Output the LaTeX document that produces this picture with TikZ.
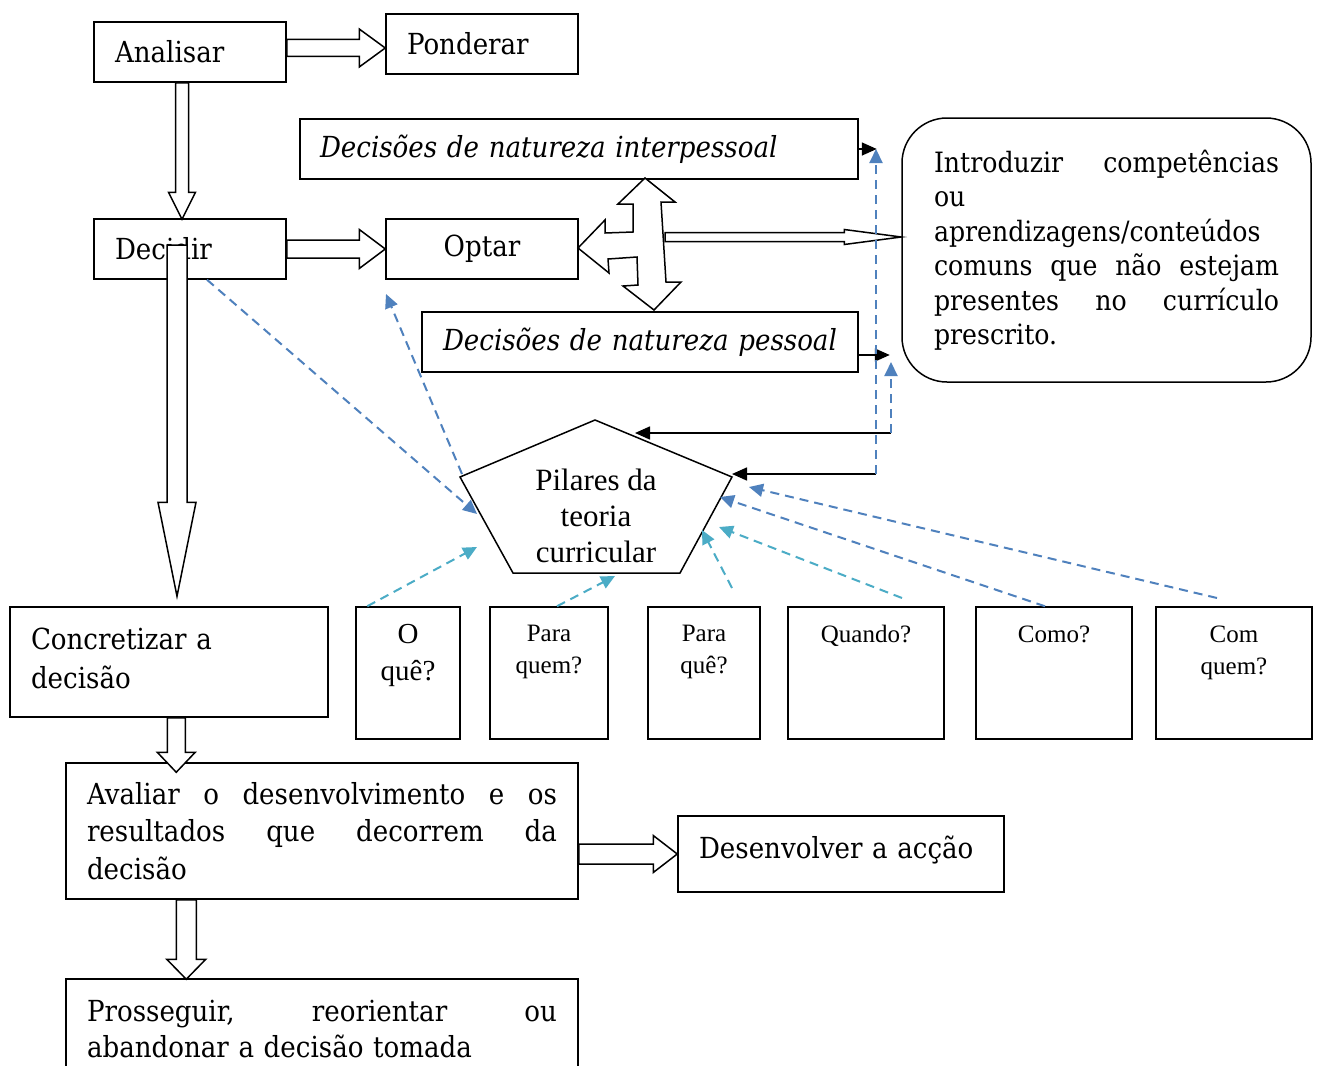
\documentclass[tikz,border=0pt]{standalone}
\usepackage{fontspec}
\setmainfont{DejaVu Serif}[FakeStretch=0.9]
\newfontfamily\tms{Liberation Serif}
\usetikzlibrary{arrows.meta,calc}
\definecolor{myblue}{RGB}{79,129,189}
\definecolor{mycyan}{RGB}{75,172,198}
\newcommand\myharrow[5]{\draw[blk] let \p1=(#1), \p2=(#2) in (\x1,\y2+#3) -- (\x2-#5,\y2+#3) -- (\x2-#5,\y2+#4) -- (\x2,\y2) -- (\x2-#5,\y2-#4) -- (\x2-#5,\y2-#3) -- (\x1,\y2-#3) -- cycle;}
\newcommand\myvarrow[5]{\draw[blk] let \p1=(#1), \p2=(#2) in (\x2-#3,\y1) -- (\x2-#3,\y2+#5) -- (\x2-#4,\y2+#5) -- (\x2,\y2) -- (\x2+#4,\y2+#5) -- (\x2+#3,\y2+#5) -- (\x2+#3,\y1) -- cycle;}
\newcommand\jline[2]{\leavevmode\hbox to #1{#2}}
\tikzset{
  box/.style={draw, line width=1.5pt, fill=white, inner ysep=0pt, font=\fontsize{29}{35}\selectfont},
  lbox/.style={box, align=left, inner xsep=21pt},
  qbox/.style={draw, line width=1.5pt, minimum height=132pt, inner sep=0pt},
  qtext/.style={anchor=north, align=center, inner sep=0pt, font=\tms\fontsize{25}{32}\selectfont},
  blk/.style={draw, line width=1.5pt, fill=white, line join=miter},
  dblue/.style={draw=myblue, line width=2pt, dash pattern=on 9pt off 6pt, -{Triangle[length=14pt,width=13pt]}, myblue},
  dcyan/.style={draw=mycyan, line width=2pt, dash pattern=on 9pt off 6pt, -{Triangle[length=14pt,width=13pt]}, mycyan},
  blackarr/.style={line width=1.6pt, -{Triangle[length=15pt,width=13pt]}},
}
\begin{document}
\begin{tikzpicture}[x=1pt,y=-1pt]
\useasboundingbox (0,0) rectangle (1319,1065);
\fill[white] (0,0) rectangle (1319,1065);

% main boxes
\node[lbox, text width=150pt, minimum height=60pt] (ana) at (190,52) {Analisar};
\node[lbox, text width=150pt, minimum height=60pt] (pon) at (482,44) {Ponderar};
\node[lbox, text width=150pt, minimum height=60pt] (dec) at (190,249) {Decidir};
\node[box, minimum width=192pt, minimum height=60pt] (opt) at (482,249) {Optar};
\node[lbox, inner xsep=20pt, text width=518pt, minimum height=60pt, font=\itshape\fontsize{29}{35}\selectfont] (inter) at (579,149) {Decisões de natureza interpessoal};
\node[lbox, text width=394pt, minimum height=60pt, font=\itshape\fontsize{29}{35}\selectfont] (pess) at (640,342) {Decisões de natureza pessoal};
\node[box, rounded corners=45pt, align=left, inner xsep=32pt, text width=345pt, minimum height=264pt, font=\fontsize{28}{34.5}\selectfont] (intro) at (1106.5,250) {\jline{345pt}{Introduzir\hfill competências}\\ou\\aprendizagens/conteúdos\\\jline{345pt}{comuns\hfill que\hfill não\hfill estejam}\\\jline{345pt}{presentes\hfill no\hfill currículo}\\prescrito.};
\node[lbox, text width=276pt, minimum height=110pt, text depth=47pt, font=\fontsize{29}{39}\selectfont] (conc) at (169,662) {Concretizar a\\decisão};
\node[lbox, text width=470pt, minimum height=136pt, font=\fontsize{29}{37.5}\selectfont] (aval) at (322,831) {\jline{470pt}{Avaliar\hfill o\hfill desenvolvimento\hfill e\hfill os}\\\jline{470pt}{resultados\hfill que\hfill decorrem\hfill da}\\decisão};
\node[lbox, text width=284pt, minimum height=76pt, text depth=14pt] (des) at (841,854) {Desenvolver a acção};
\node[lbox, text width=470pt, minimum height=101pt, font=\fontsize{29}{36}\selectfont] (pros) at (322,1029.5) {\jline{470pt}{Prosseguir,\hfill reorientar\hfill ou}\\abandonar a decisão tomada};

% question boxes
\node[qbox, minimum width=104pt] (q1) at (408,673) {};
\node[qbox, minimum width=118pt] (q2) at (549,673) {};
\node[qbox, minimum width=112pt] (q3) at (704,673) {};
\node[qbox, minimum width=156pt] (q4) at (866,673) {};
\node[qbox, minimum width=156pt] (q5) at (1054,673) {};
\node[qbox, minimum width=156pt] (q6) at (1234,673) {};
\node[qtext, font=\tms\fontsize{29}{37}\selectfont] (q1t) at ($(q1.north)+(0,18)$) {O\\quê?};
\node[qtext] (q2t) at ($(q2.north)+(0,19)$) {Para\\quem?};
\node[qtext] (q3t) at ($(q3.north)+(0,19)$) {Para\\quê?};
\node[qtext] (q4t) at ($(q4.north)+(0,19)$) {Quando?};
\node[qtext] (q5t) at ($(q5.north)+(0,19)$) {Como?};
\node[qtext] (q6t) at ($(q6.north)+(0,19)$) {Com\\quem?};

% pentagon
\coordinate (pT) at (595,420);
\coordinate (pR) at (732,477);
\coordinate (pBR) at (680,573);
\coordinate (pBL) at (513,573);
\coordinate (pL) at (460,477);
\draw[line width=1.5pt, fill=white] (pT) -- (pR) -- (pBR) -- (pBL) -- (pL) -- cycle;
\node[align=center, inner sep=0pt, font=\tms\fontsize{31}{36}\selectfont] (pil) at (596,516) {Pilares da\\teoria\\curricular};

% block arrows
\myharrow{ana.east}{$(pon.west)+(0,4)$}{8.5pt}{19pt}{26pt}
\myvarrow{ana.south}{$(dec.north)+(-8,1)$}{6.5pt}{13.5pt}{27pt}
\myharrow{dec.east}{opt.west}{9pt}{19.5pt}{26pt}
\myvarrow{$(dec.center)+(0,-4)$}{$(conc.north)+(8,-10)$}{10pt}{19pt}{94pt}
\myvarrow{conc.south}{$(aval.north west)+(111,10)$}{9pt}{19pt}{20pt}
\myharrow{aval.east}{des.west}{10pt}{18.5pt}{24pt}
\myvarrow{aval.south}{$(pros.north west)+(121,1)$}{10pt}{19.5pt}{20pt}

% four-way arrow
\draw[blk] (645,178) -- (675,202) -- (661,202) -- (666,282) -- (681,282) -- (654,310) -- (623,286) -- (638,285) -- (637,257) -- (608,259) -- (609,273) -- (578,248) -- (605,220) -- (605,233) -- (633,232) -- (633,204) -- (618,204) -- cycle;
\coordinate (fw) at (665,237);
\myharrow{fw}{$(intro.west)+(0,-13)$}{4.5pt}{7.5pt}{57pt}

% connector corner points
\coordinate (c1) at (876,474);
\coordinate (c2) at (891,433);
\coordinate (u1) at (876,149);
\coordinate (u2) at (891,362);

% black arrows
\draw[blackarr] (inter.east) -- ++(18,0);
\draw[blackarr] ($(pess.east)+(0,13)$) -- ++(31,0);
\draw[blackarr] (c1) -- (c1 -| pR);
\draw[blackarr] (c2) -- (635,433);

% blue dashed
\draw[dblue] (c1) -- (u1);
\draw[dblue] (c2) -- (u2);
\draw[dblue] ($(dec.south)+(17,0)$) -- (477,514);
\draw[dblue] ($(pL)+(2,-3)$) -- (386,294);
\draw[dblue] ($(q5.north)+(-9,0)$) -- (720,497);
\draw[dblue] (1217,598) -- (749,487);

% cyan dashed
\draw[dcyan] ($(q1.north west)+(12,0)$) -- (477,547);
\draw[dcyan] ($(q2.north)+(8,0)$) -- (615,576);
\draw[dcyan] (732,588) -- (702,530);
\draw[dcyan] (902,598) -- (719,527);
\end{tikzpicture}
\end{document}
